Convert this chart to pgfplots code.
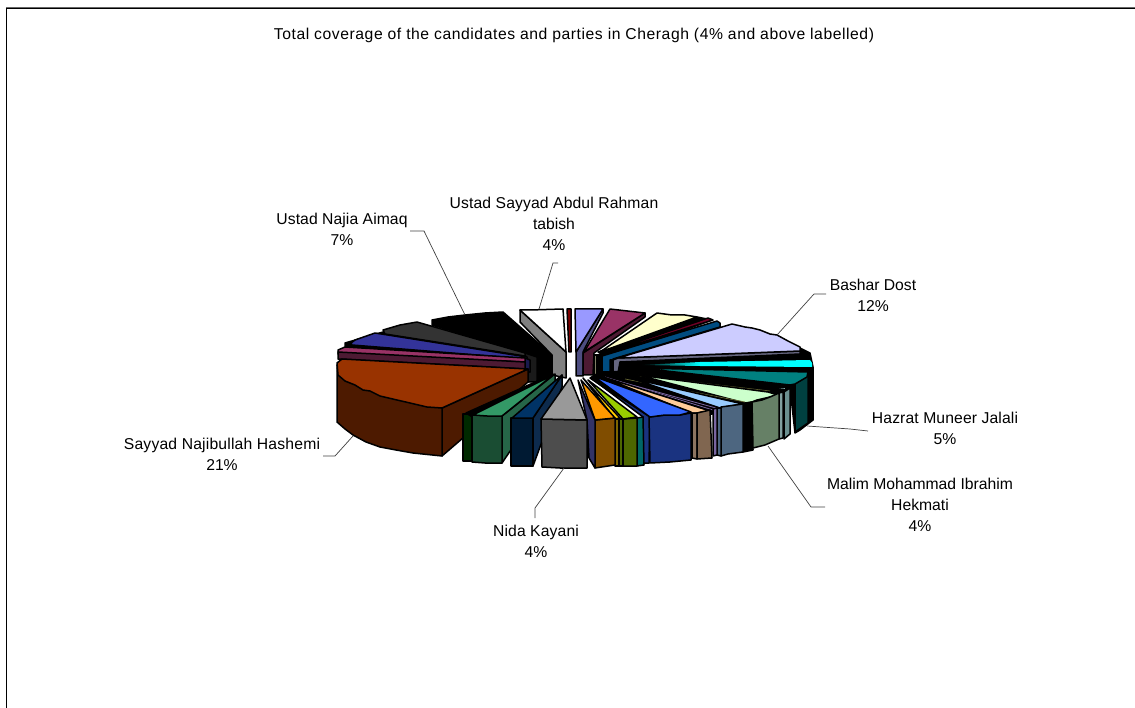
\documentclass[border=0pt]{standalone}
\usepackage{pgfplots}
\pgfplotsset{compat=1.18}
\usepackage{fontspec}
\setmainfont{Liberation Sans}
% slice palette: top faces, and the darker walls below them
\definecolor{rust}{HTML}{993300}\definecolor{rustD}{HTML}{4D1A00}
\definecolor{indi}{HTML}{333399}\definecolor{indiD}{HTML}{1A1A4D}
\definecolor{plum}{HTML}{993366}\definecolor{plumD}{HTML}{4D1A33}
\definecolor{cream}{HTML}{FFFFCC}\definecolor{creamD}{HTML}{808066}
\definecolor{peri}{HTML}{9999FF}\definecolor{periD}{HTML}{4D4D80}
\definecolor{lav}{HTML}{CCCCFF}\definecolor{lavD}{HTML}{666680}
\definecolor{navy}{HTML}{003366}\definecolor{navyD}{HTML}{001A33}\definecolor{navyM}{HTML}{0D2B4D}
\definecolor{ocean}{HTML}{004C80}\definecolor{tealT}{HTML}{008080}\definecolor{tealD}{HTML}{004040}
\definecolor{mint}{HTML}{CCFFCC}\definecolor{mintD}{HTML}{668066}
\definecolor{sky}{HTML}{99CCFF}\definecolor{skyD}{HTML}{4D6680}
\definecolor{peach}{HTML}{FFCC99}\definecolor{peachD}{HTML}{806650}
\definecolor{royal}{HTML}{3366FF}\definecolor{royalD}{HTML}{1A3380}
\definecolor{lime2}{HTML}{99CC00}\definecolor{limeD}{HTML}{4D6600}
\definecolor{gold}{HTML}{FFCC00}\definecolor{goldD}{HTML}{806600}
\definecolor{amber}{HTML}{FF9900}\definecolor{amberD}{HTML}{804D00}
\definecolor{sea}{HTML}{339966}\definecolor{seaD}{HTML}{1A4D33}\definecolor{seaM}{HTML}{266648}
\definecolor{grayT}{HTML}{999999}\definecolor{grayD}{HTML}{4D4D4D}\definecolor{grayM}{HTML}{808080}
\definecolor{char}{HTML}{333333}\definecolor{charD}{HTML}{1A1A1A}
\definecolor{slate}{HTML}{333366}\definecolor{mist}{HTML}{6B8F8F}\definecolor{vio}{HTML}{7A66A0}
\definecolor{olv}{HTML}{666633}\definecolor{dkgreen}{HTML}{002A00}
\definecolor{aqua}{HTML}{00FFFF}\definecolor{pale}{HTML}{CCFFFF}
% one filled facet of the exploded pie, in pixel-style axis units
\newcommand{\facet}[2]{\addplot[fill=#1,draw=black,line width=1.5pt,line join=round] coordinates {#2} -- cycle;}
\newcommand{\solid}[2]{\addplot[fill=#1,draw=none] coordinates {#2} -- cycle;}
\newcommand{\leader}[1]{\addplot[draw=black!75,line width=0.7pt] coordinates {#1};}
\tikzset{lab/.style={font=\fontsize{15.7}{21}\selectfont,align=center,text=black,inner sep=0pt}}
\begin{document}
\begin{tikzpicture}
\path[use as bounding box] (0,0) rectangle (1135pt,708pt);
\begin{axis}[
  at={(0,0)},anchor=south west,
  width=1135pt,height=708pt,scale only axis,
  xmin=0,xmax=1135,ymin=0,ymax=708,y dir=reverse,
  hide axis,clip=true,
]
% chart frame
\addplot[draw=black!60,line width=1pt] coordinates {(6,7.2) (1135,7.2)};
\addplot[draw=black,line width=1.2pt] coordinates {(6.5,708) (6.5,8.2) (1135,8.2)};

% back-left slices
\facet{black}{(432,320) (448,317) (465,315) (485,313) (503,312) (552,355) (552,380) (525,382) (525,353) (432,325)}
\facet{charD}{(525,353) (537,357) (537,382) (525,382)}
\facet{black}{(383,332) (525,354) (530,372) (345,350) (345,343)}
\facet{char}{(383,330) (400,325) (417,322) (525,353) (525,356) (385,334)}
\facet{indi}{(351,343) (355,340) (375,333) (527,357) (527,359) (352,345)}
\facet{indiD}{(525,358) (530,360) (530,372) (525,372)}
\facet{plum}{(338,350) (345,347) (525,358) (525,362) (338,354)}
\facet{plumD}{(338,352) (525,362) (525,369) (338,359)}

% largest slice
\facet{rustD}{(528,369) (528,382) (442,456) (442,408)}
\facet{rustD}{(337,365) (337,422) (345,429) (353,435) (366,442) (380,447) (396,450) (413,453) (442,456) (442,408)}
\facet{rust}{(337,363) (342,359) (528,369) (442,408) (427,407) (410,403) (397,400) (380,396) (370,391) (363,390) (355,385) (345,381) (338,375)}

% white slice and its side wall
\facet{grayM}{(520,310) (566,352) (566,378) (552,375) (552,355) (520,322)}
\facet{white}{(520,310) (530,310) (563,309) (566,352)}

% thin red slice
\facet{red!50!black}{(567,309) (571,309) (571,352) (569,352)}

% slices running clockwise from the top
\facet{periD}{(603,309) (603,313) (583,352) (583,376) (576,376) (576,352)}
\facet{peri}{(575,309) (603,309) (576,352)}
\facet{plumD}{(645,313) (645,317) (594,353) (593,375) (583,375) (583,353)}
\facet{plum}{(610,309) (645,313) (584,352)}
\facet{black}{(598,352) (697,317) (707,319) (712,320) (608,358)}
\facet{cream}{(657,313) (672,315) (685,315) (697,317) (600,352)}
\facet{purple!60!black}{(708,318) (713,320) (640,343) (637,342)}
\facet{creamD}{(594,355) (597,355) (597,376) (594,376)}
\facet{black}{(597,355) (602,355) (602,376) (597,376)}
\facet{ocean}{(602,356) (717,321) (720,323) (720,327) (613,359) (612,373) (602,373)}
\facet{black}{(610,360) (800,348) (810,353) (813,367) (813,420) (800,430) (795,433) (790,388) (640,372) (610,374)}
\facet{lavD}{(613,360) (618,358) (800,351) (800,354) (620,362) (618,373) (613,373)}
\facet{lav}{(618,358) (732,324) (745,327) (752,328) (760,330) (770,334) (777,335) (788,341) (800,347) (800,351)}
% cyan slice, fading into the hub
\addplot[shade,left color=black,right color=aqua,draw=none] coordinates {(640,365) (700,362) (700,366)} -- cycle;
\solid{aqua}{(700,362) (810,360) (812,363) (812,367) (700,366)}

% right-hand wall and teal slice
\facet{tealD}{(795,384) (808,375) (808,423) (795,432)}
\facet{tealT}{(640,368) (808,372) (807,377) (795,384) (790,385)}
\facet{black}{(600,372) (640,371) (790,386) (790,394) (752,405) (712,414) (650,419) (590,378)}
\facet{pale}{(755,385) (788,388) (785,390)}
\addplot[draw=olv,line width=0.7pt] coordinates {(640,376) (770,391)};
\facet{mint}{(638,375) (768,392) (778,395) (770,397) (757,400) (752,402) (745,403)}
\addplot[draw=olv,line width=0.7pt] coordinates {(625,379) (745,402)};
\facet{mist!85!white}{(779,393) (783,392) (783,438) (779,439)}
\facet{mist}{(784,392) (790,388) (790,434) (784,439)}
\facet{black}{(743,404) (752,402) (753,450) (743,452)}
\facet{mintD}{(752,402) (762,400) (770,397) (779,393) (779,439) (765,445) (753,448)}
\facet{sky}{(630,378) (743,404) (730,406) (720,408)}
\addplot[draw=vio,line width=0.8pt] coordinates {(610,379) (716,408)};
\addplot[draw=vio,line width=0.8pt] coordinates {(605,377) (713,410)};
\facet{skyD}{(721,407) (743,404) (743,452) (728,454) (721,456)}
\facet{skyD}{(717,408) (721,408) (721,456) (717,455)}
\facet{vio}{(713,409) (717,408) (717,455) (713,456)}
\facet{peach}{(597,375) (710,411) (697,413) (692,413)}
\facet{peachD!90!white}{(692,413) (697,413) (697,459) (692,458)}
\facet{peachD}{(697,413) (710,410) (712,458) (697,459)}

% royal blue slice
\facet{royalD}{(591,378) (650,417) (649,463) (643,463) (643,417)}
\facet{royalD}{(649,417) (665,415) (680,415) (691,413) (691,460) (670,462) (650,463)}
\facet{royal}{(593,376) (650,417) (665,415) (680,415) (691,412)}
\facet{tealT!80!black}{(637,418) (643,417) (644,465) (637,466)}

% yellow-green, gold and orange slices
\facet{limeD}{(623,419) (637,418) (637,466) (623,466)}
\facet{lime2}{(588,380) (637,417) (623,419)}
\facet{goldD}{(615,419) (619,419) (619,466) (615,466)}
\facet{limeD}{(619,419) (623,419) (623,466) (619,466)}
\facet{gold}{(583,378) (620,418) (615,419)}
\facet{amberD}{(595,420) (615,418) (615,465) (595,468)}
\facet{amber}{(581,380) (615,418) (595,420)}
\facet{slate}{(578,380) (595,420) (595,468) (589,458) (587,420)}

% front-left slices
\facet{dkgreen}{(463,414) (472,414) (472,461) (463,461)}
\facet{black}{(466,413) (553,374) (555,380) (474,418)}
\facet{seaM}{(502,416) (555,374) (555,385) (502,463)}
\facet{seaD}{(472,415) (502,416) (502,463) (485,463) (472,462)}
\facet{sea}{(473,415) (487,416) (502,416) (553,375)}
\facet{navyM}{(533,418) (562,375) (562,387) (533,466)}
\facet{navyD}{(511,418) (533,418) (533,466) (511,466)}
\facet{navy}{(512,418) (533,418) (562,375)}
\facet{grayD}{(541,419) (587,420) (587,468) (560,468) (542,467)}
\facet{grayT}{(570,378) (587,420) (541,419)}

% leader lines
\leader{(410,231) (424,231) (465,315)}
\leader{(558,263) (553,263) (539,309)}
\leader{(826,294) (814,294) (777,335)}
\leader{(868,431) (850,429) (807,426)}
\leader{(825,507) (811,507) (768,446)}
\leader{(535,518) (535,508) (564,468)}
\leader{(323,456) (335,456) (353,436)}

% title and labels
\node[lab] at (axis cs:574,35) {\addfontfeature{LetterSpace=3.6}Total coverage of the candidates and parties in Cheragh (4\% and above labelled)};
\node[lab] at (axis cs:342,229) {\addfontfeature{LetterSpace=0.5}Ustad Najia Aimaq\\7\%};
\node[lab] at (axis cs:554,224) {\addfontfeature{LetterSpace=0.8}Ustad Sayyad Abdul Rahman\\tabish\\4\%};
\node[lab] at (axis cs:873,295) {Bashar Dost\\12\%};
\node[lab] at (axis cs:945,428) {\addfontfeature{LetterSpace=0.8}Hazrat Muneer Jalali\\5\%};
\node[lab] at (axis cs:920,505) {Malim Mohammad Ibrahim\\Hekmati\\4\%};
\node[lab] at (axis cs:536,541) {\addfontfeature{LetterSpace=0.8}Nida Kayani\\4\%};
\node[lab] at (axis cs:222,454) {\addfontfeature{LetterSpace=1.2}Sayyad Najibullah Hashemi\\21\%};
\end{axis}
\end{tikzpicture}
\end{document}
